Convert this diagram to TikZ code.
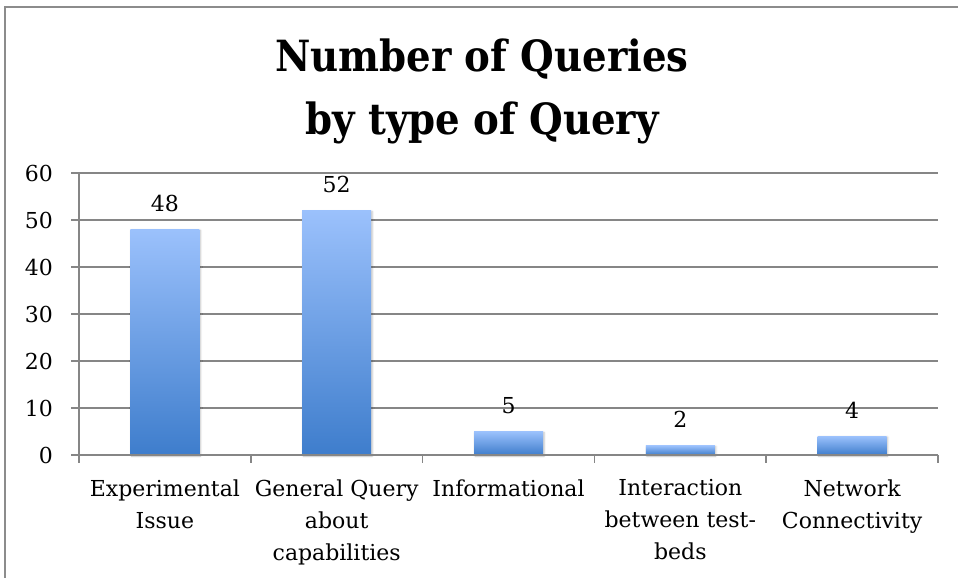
\documentclass[tikz,border=0pt]{standalone}
\usepackage{fontspec}
\setmainfont{DejaVu Serif}
\newfontfamily\titlefont{DejaVu Serif Condensed}
\usetikzlibrary{shadows.blur}
\definecolor{gridgray}{RGB}{134,134,134}
\definecolor{framegray}{RGB}{140,140,140}
\definecolor{barlight}{RGB}{155,193,252}
\definecolor{bardark}{RGB}{62,125,204}

\begin{document}
\begin{tikzpicture}[x=1pt, y=-1pt,
  gridline/.style={gridgray, line width=1.5pt},
  axisline/.style={gridgray, line width=1.5pt},
  frameline/.style={framegray, line width=2pt},
  barbox/.style={top color=barlight, bottom color=bardark,
    blur shadow={shadow xshift=1pt, shadow yshift=-1pt, shadow blur radius=2pt,
      shadow opacity=25, shadow blur steps=5}},
  vallabel/.style={font=\fontsize{22}{26}\selectfont, anchor=base, inner sep=0pt},
  ticklabel/.style={font=\fontsize{22}{26}\selectfont, anchor=east, inner sep=0pt},
  catlabel/.style={font=\fontsize{22}{32}\selectfont, align=center, anchor=north, inner sep=0pt},
  titlelabel/.style={font=\titlefont\bfseries\fontsize{43}{63}\selectfont, align=center, anchor=north, inner sep=0pt}
]
\useasboundingbox (0,0) rectangle (958,578);

% chart frame (top and left edges)
\draw[frameline] (5,578) -- (5,7) -- (958,7);

% title
\node[titlelabel] (title) at (482,39) {Number of Queries\\by type of Query};

% value axis: gridlines and labels
\foreach \v in {10,20,...,60} {
  \draw[gridline] (71,{455-4.7*\v}) -- (938,{455-4.7*\v});
}
\foreach \v in {0,10,...,60} {
  \node[ticklabel] (tick\v) at (53,{455-4.7*\v}) {\v};
}

% bars with value labels
\foreach \i/\val in {1/48, 2/52, 3/5, 4/2, 5/4} {
  \pgfmathsetmacro{\cx}{79+171.8*(\i-0.5)}
  \pgfmathsetmacro{\ytop}{455-4.7*\val}
  \shade[barbox] (\cx-34.5,\ytop) rectangle (\cx+34.5,455);
  \node[vallabel] (val\i) at (\cx,\ytop-18) {\val};
}

% category axis with ticks
\draw[axisline] (71,455) -- (938,455);
\draw[axisline] (79,173) -- (79,463);
\foreach \k in {1,...,5} {
  \draw[axisline] ({79+171.8*\k},455) -- ({79+171.8*\k},463);
}

% category labels
\node[catlabel] (cat1) at (164.9,479.5) {Experimental\\Issue};
\node[catlabel] (cat2) at (336.7,479.5) {General Query\\about\\capabilities};
\node[catlabel] (cat3) at (508.5,479.5) {Informational};
\node[catlabel] (cat4) at (680.3,479.5) {Interaction\\between test-\\beds};
\node[catlabel] (cat5) at (852.1,479.5) {Network\\Connectivity};
\end{tikzpicture}
\end{document}
